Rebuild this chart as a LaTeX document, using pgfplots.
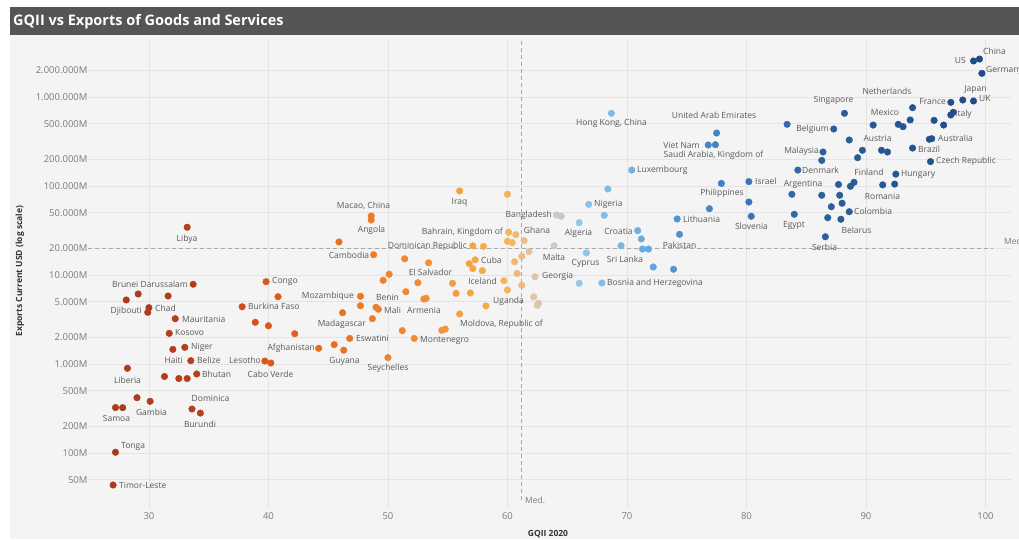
\documentclass[border=0pt]{standalone}
\usepackage{fontspec}
\setmainfont{Open Sans}
\usepackage{pgfplots}
\pgfplotsset{compat=1.18}
\usepackage{pgfplotstable}
\definecolor{bg}{HTML}{F4F4F4}
\definecolor{titlebg}{HTML}{555555}
\definecolor{gridc}{HTML}{E4E4E4}
\definecolor{tickc}{HTML}{7A7A7A}
\definecolor{labc}{HTML}{595959}
\definecolor{medc}{HTML}{A8A8A8}
\definecolor{axlab}{HTML}{333333}

\newcommand{\lc}[3]{\node[anchor=center] at (#1,#2) {#3};}
\newcommand{\lw}[3]{\node[anchor=west] at (#1,#2) {#3};}
\newcommand{\lE}[3]{\node[anchor=east] at (#1,#2) {#3};}

% GQII 2020, exports current USD in millions
\pgfplotstableread{
g v
33.2 34400
33.7 7870
29.1 6120
28.1 5240
31.6 5810
30.0 4300
29.9 3810
32.2 3230
31.7 2210
33.0 1540
32.0 1460
33.5 1090
34.0 773
28.2 895
31.3 724
32.5 687
33.2 687
29.0 418
30.1 381
27.2 324
27.8 323
33.6 312
34.3 281
27.2 102
27.0 43.7
39.8 8410
40.8 5700
37.8 4400
38.9 2940
40.0 2690
42.2 2190
44.2 1500
39.7 1080
40.2 1026
56.0 87900
60.0 80700
48.6 46000
48.6 41500
45.9 23500
48.8 16900
60.1 30200
60.7 28400
60.0 23900
60.4 23100
61.4 24300
57.1 21300
58.0 21000
61.8 18300
61.2 16200
60.6 14100
51.4 15200
53.4 13700
57.3 14800
56.8 13400
57.1 11800
57.9 11200
50.1 10200
49.6 8710
52.5 8190
55.4 8070
60.8 10400
59.7 8630
55.7 6220
56.9 6280
61.2 7660
60.0 6780
51.5 6490
53.2 5470
53.0 5370
47.7 5770
47.7 4520
49.0 4340
49.2 4120
46.2 3770
48.7 3230
58.2 4490
56.0 3650
62.2 5670
62.6 4810
62.5 4570
62.3 9570
51.2 2370
54.8 2470
54.5 2390
46.8 1940
52.2 1940
45.5 1650
46.3 1430
50.0 1180
68.7 656000
77.5 394000
76.8 289000
77.4 291000
70.4 151000
80.2 112000
77.9 107000
68.4 92500
80.2 66100
66.8 62200
76.9 55600
74.2 42600
80.4 45700
68.1 46900
64.1 47200
64.5 45700
66.0 38700
70.9 31500
71.2 25400
74.4 28600
69.5 21300
71.3 19600
71.8 19600
63.9 21300
66.6 17700
72.2 12300
73.9 11600
67.9 8130
66.0 8070
99.5 2670000
99.0 2540000
99.7 1845000
93.9 759000
97.1 871000
98.1 925000
99.0 902000
88.2 656000
90.6 484000
92.7 493000
93.1 464000
93.7 552000
95.7 547000
96.5 484000
97.1 628000
97.3 673000
83.4 493000
87.3 437000
88.6 329000
89.7 252000
89.3 208000
91.3 252000
91.8 241000
93.9 267000
95.5 340000
95.3 335000
95.4 188000
86.4 241000
86.3 194000
84.3 151000
92.5 136000
92.4 105000
91.4 103000
87.7 104000
89.0 110000
88.7 99300
86.3 78700
87.8 78700
83.8 80700
88.0 64000
87.1 58500
88.6 51400
84.0 48100
86.8 44000
87.9 42300
86.6 26900
}\gqii

\begin{document}
\begin{tikzpicture}
\path[use as bounding box] (-88pt,-31pt) rectangle (931pt,508pt);
\begin{scope}[x=1pt,y=-1pt,shift={(-88pt,508pt)}]
  \fill[white] (0,0) rectangle (1019,539);
  \fill[bg] (10,35) rectangle (1019,539);
  \fill[titlebg] (10,7) rectangle (1019,35);
  \node[anchor=west,inner sep=0,text=white,font=\bfseries\fontsize{14.5}{18}\selectfont] at (13,22) {GQII vs Exports of Goods and Services};
\end{scope}
\begin{axis}[
  at={(0pt,0pt)}, anchor=south west,
  scale only axis, width=924pt, height=468pt,
  xmin=24.90, xmax=102.22,
  ymode=log, ymin=24.1, ymax=4.37e6,
  axis line style={draw=none},
  tick style={draw=none},
  major tick length=0pt,
  grid=major,
  grid style={color=gridc, line width=0.6pt},
  xtick={30,40,50,60,70,80,90,100},
  ytick={50,100,200,500,1000,2000,5000,10000,20000,50000,100000,200000,500000,1000000,2000000},
  yticklabels={50M,100M,200M,500M,1.000M,2.000M,5.000M,10.000M,20.000M,50.000M,100.000M,200.000M,500.000M,1.000.000M,2.000.000M},
  xticklabels={30,40,50,60,70,80,90,100},
  tick label style={font=\fontsize{9.5}{11}\selectfont, text=tickc},
  yticklabel style={xshift=3pt},
  xticklabel style={yshift=-1pt},
  colormap={gq}{rgb255(0pt)=(170,58,28); rgb255(7pt)=(185,62,26); rgb255(13pt)=(218,88,26); rgb255(20pt)=(236,118,36); rgb255(26pt)=(243,142,48); rgb255(31pt)=(246,170,72); rgb255(33pt)=(247,178,88); rgb255(34pt)=(240,186,122); rgb255(35pt)=(226,196,160); rgb255(37pt)=(200,205,200); rgb255(39pt)=(150,198,230); rgb255(41pt)=(130,190,230); rgb255(44pt)=(110,175,225); rgb255(48pt)=(75,140,205); rgb255(54pt)=(55,115,180); rgb255(61pt)=(42,92,152); rgb255(73pt)=(30,75,135)},
  point meta min=27, point meta max=100,
  clip=false,
]
\addplot[medc, line width=0.8pt, dash pattern=on 4pt off 3pt] coordinates {(24.9,20000) (100.6,20000)};
\addplot[medc, line width=0.8pt, dash pattern=on 4pt off 3pt] coordinates {(61.2,30) (61.2,4.37e6)};
\addplot[scatter, only marks, mark=*, mark size=3.3pt, point meta=x,
  scatter/use mapped color={draw=mapped color, fill=mapped color}] table[x=g, y=v] {\gqii};
\end{axis}
\begin{scope}[x=1pt,y=-1pt,shift={(-88pt,508pt)},every node/.style={inner sep=0pt,text=labc,font=\fontsize{8.5}{10}\selectfont}]
  \node[rotate=90,text=axlab,font=\bfseries\fontsize{8.5}{10}\selectfont] at (20,271) {Exports Current USD (log scale)};
  \node[text=axlab,font=\bfseries\fontsize{8.5}{10}\selectfont] at (548,534) {GQII 2020};
  \node[anchor=west,text=tickc] at (525,500) {Med.};
  \node[anchor=west,text=tickc] at (1004,241) {Med.};
  \lc{187}{239}{Libya}
  \lE{188}{284}{Brunei Darussalam}
  \lE{142}{311.7}{Djibouti}
  \lw{155}{308}{Chad}
  \lw{182}{319}{Mauritania}
  \lw{175}{333}{Kosovo}
  \lw{191}{347}{Niger}
  \lE{183}{360.7}{Haiti}
  \lw{197}{360.7}{Belize}
  \lw{202}{374}{Bhutan}
  \lc{127.5}{380}{Liberia}
  \lc{151.5}{412}{Gambia}
  \lc{116.5}{418}{Samoa}
  \lc{210.5}{398.7}{Dominica}
  \lc{200}{424}{Burundi}
  \lw{121}{446.7}{Tonga}
  \lw{119}{485.7}{Timor-Leste}
  \lw{272}{281.7}{Congo}
  \lw{248}{306.7}{Burkina Faso}
  \lE{315}{348.3}{Afghanistan}
  \lE{261}{360.7}{Lesotho}
  \lc{270.5}{374.3}{Cabo Verde}
  \lE{354}{296.3}{Mozambique}
  \lE{366}{324}{Madagascar}
  \lw{356}{338.3}{Eswatini}
  \lc{344.5}{361.7}{Guyana}
  \lc{388}{368.3}{Seychelles}
  \lw{420}{340.7}{Montenegro}
  \lw{384}{310}{Mali}
  \lc{424}{310}{Armenia}
  \lc{387.5}{297.3}{Benin}
  \lc{430.5}{272.7}{El Salvador}
  \lc{349}{255.3}{Cambodia}
  \lc{371.5}{230.7}{Angola}
  \lc{363.5}{205.7}{Macao, China}
  \lc{459.5}{202.3}{Iraq}
  \lE{503}{232.3}{Bahrain, Kingdom of}
  \lE{467}{246}{Dominican Republic}
  \lw{481}{260.3}{Cuba}
  \lE{497}{281.7}{Iceland}
  \lw{493}{301.7}{Uganda}
  \lc{501.5}{324.3}{Moldova, Republic of}
  \lE{552}{215.3}{Bangladesh}
  \lc{537}{230}{Ghana}
  \lc{554}{257.3}{Malta}
  \lw{542}{276.5}{Georgia}
  \lc{578.5}{233.3}{Algeria}
  \lw{594}{204.3}{Nigeria}
  \lc{611.5}{123.7}{Hong Kong, China}
  \lc{618.5}{231.3}{Croatia}
  \lc{585.5}{263.3}{Cyprus}
  \lc{625}{259.3}{Sri Lanka}
  \lw{607}{283}{Bosnia and Herzegovina}
  \lc{679.5}{245.7}{Pakistan}
  \lw{683}{219}{Lithuania}
  \lc{751.5}{226.7}{Slovenia}
  \lc{722}{193.7}{Philippines}
  \lw{755}{181.7}{Israel}
  \lw{637}{170}{Luxembourg}
  \lc{681.5}{145.3}{Viet Nam}
  \lc{713.5}{155.3}{Saudi Arabia, Kingdom of}
  \lc{714}{115}{United Arab Emirates}
  \lc{994.5}{51.7}{China}
  \lE{966}{60}{US}
  \lw{986}{70}{Germany}
  \lc{975.5}{89}{Japan}
  \lw{979}{99}{UK}
  \lE{946}{101.7}{France}
  \lw{955}{114}{Italy}
  \lc{887}{91}{Netherlands}
  \lc{833.5}{100.7}{Singapore}
  \lc{885}{112.7}{Mexico}
  \lE{829}{129}{Belgium}
  \lc{877.5}{138.7}{Austria}
  \lw{938}{138.3}{Australia}
  \lw{918}{149.3}{Brazil}
  \lE{819}{151.7}{Malaysia}
  \lw{936}{161.7}{Czech Republic}
  \lw{802}{170.7}{Denmark}
  \lc{869}{172.7}{Finland}
  \lw{901}{174.3}{Hungary}
  \lc{803}{184.3}{Argentina}
  \lc{882.5}{196}{Romania}
  \lw{854}{211.7}{Colombia}
  \lc{794}{225.7}{Egypt}
  \lc{856.5}{230}{Belarus}
  \lc{824.5}{247.3}{Serbia}
\end{scope}
\end{tikzpicture}
\end{document}
